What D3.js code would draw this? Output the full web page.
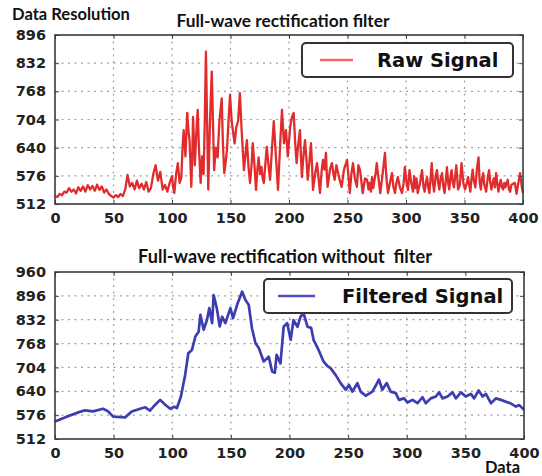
<!DOCTYPE html>
<html>
<head>
<meta charset="utf-8">
<script src="https://cdn.jsdelivr.net/npm/d3@7"></script>
<style>
  html, body { margin: 0; padding: 0; background: #fff; }
  svg { display: block; }
</style>
</head>
<body>
<svg id="chart" width="542" height="476"></svg>
<script>
// Raw (unfiltered) signal: sample index and amplitude
const rawX = [0,2,4,6,8,10,12,14,16,18,20,22,24,26,28,30,32,34,36,38,40,42,44,46,48,50,52,54,56,58,60,62,64,66,68,70,72,74,76,78,80,82,84,86,88,90,92,94,96,98,
  100,101,102,103.5,105,106.5,108,109,110,111.5,113,114,115,116.5,117.5,118,119.5,120.5,121.3,122,123,124.5,125.7,127,128,129,130,131,132.5,134,135,136,137.5,139,140.5,142.5,143.5,144.7,146,147,148.3,149.6,151,152,153.5,155,156.5,158,159.5,161.5,163,164,165.3,166.7,168,169,170.5,171.8,173,174,175.3,176.5,177.5,178.5,180,181,182.5,183.8,185.5,187,188.8,190.6,192.3,194,195.7,197.4,199,
  201,202.5,204,205.3,206.5,208,209.4,210.2,211,212.3,213.7,215,216,217.5,218.8,219.7,220.5,222.3,224,225.3,226.5,228,229,230.3,231.6,232.3,233,235,236.7,238,239,240.5,242,243.5,245,247,249.6,251,252,253.3,254.7,256.3,258,259.3,260.7,262,263,265,266.7,268,269,270,271,272,273,274,275,276.5,278,280,282,283.3,284.6,286.3,288,289.3,290.6,291.8,293,294.8,296.6,298,299,
  300.5,301.7,303,304.5,306,307,308,309,310,312,313.7,315,316,317,318,319,320,321,322,323,324,325.3,326.5,327.5,328.5,329.6,330.8,332,333,334,335,336,337,338,339,340,341,342,343,344.5,346,347.5,349,350.5,352,353,354,355,356,357,358,359.3,360.7,362,363,364,365,366,367,368.5,370,371,372,373,374,375,376,377,378,379,380,381,382,383,384,385,386,387,388,389,390,391.5,393,394.5,396,397.5,399,400];
const rawY = [530,528,535,532,540,538,548,540,545,536,550,542,552,540,555,545,553,542,556,544,552,538,545,535,530,527,532,528,535,530,545,578,552,560,545,565,548,558,545,562,540,548,580,600,565,585,545,555,540,560,
  575,550,537,580,605,560,573,640,680,620,719,680,657,551,640,710,600,657,700,726,640,560,620,580,700,858,700,545,700,813,700,589,640,618,700,752,650,582,610,635,700,760,700,680,650,687,700,764,680,589,630,657,600,560,600,650,600,544,590,618,580,596,570,560,610,642,600,567,640,700,620,544,640,726,650,680,620,
  687,710,719,650,605,650,680,620,573,620,657,610,567,610,650,600,544,580,605,570,537,590,612,590,628,580,551,590,605,580,567,600,582,565,551,590,612,570,537,580,605,570,551,600,589,560,537,570,567,545,560,540,573,548,565,580,605,570,537,580,628,570,537,560,582,550,537,560,573,550,537,560,596,
  560,544,589,560,540,575,548,570,537,560,589,550,540,560,573,550,537,570,605,560,540,575,589,560,545,570,582,550,537,565,596,560,545,575,589,560,550,575,600,545,555,605,560,545,560,573,555,540,570,590,565,550,595,618,560,545,570,582,555,540,575,589,560,545,560,570,550,582,560,540,555,567,550,545,560,550,560,567,545,540,555,558,560,535,560,582,550,537,545];

// Filtered signal: sample index and amplitude
const filtX = [0,10,18.5,25.6,32.5,41,45.3,49.6,59.8,65.5,72.6,77,81,85.5,89.7,94,98.3,101.7,104,107.4,111,113.7,116.8,119.7,122.5,124,126.8,129.6,131.6,134,135.3,138,140.5,142.5,145.3,149.6,151.9,155.3,159.6,162.4,165.2,168,171,173.8,178,182.3,185.2,187.5,189,192.3,
  195,198,201,203.4,206.8,209.4,212,215.4,218.5,220.5,224.8,229,232.2,235,239.3,243.6,247.9,250.7,253.6,257.9,260.7,265,270.7,276.3,279.2,282.9,286.3,290.6,293.4,297.7,300.6,304.9,309.2,313.4,316.2,320.5,324.8,327.6,330.5,334.8,339,341.9,346.2,350.4,354.7,357.5,361.3,364.7,367.5,371.8,376,380.3,384.6,388.9,393.2,396,400];
const filtY = [559,572,582,589,586,593,586,572,570,586,593,597,588,604,617,604,593,599,595,626,684,742,751,787,800,845,805,831,863,823,898,863,814,840,823,863,836,872,907,885,872,809,769,756,720,733,693,690,738,715,
  813,823,778,831,813,840,849,813,810,778,751,720,708,702,684,662,644,657,639,662,639,628,639,671,644,662,639,635,617,621,610,617,608,624,608,621,626,637,621,626,637,621,637,626,633,621,642,626,633,608,621,617,612,607,599,603,590];

// Axis tick values
const xTicks = [0,50,100,150,200,250,300,350,400];
const yTicksTop = [512,576,640,704,768,832,896];
const yTicksBottom = [512,576,640,704,768,832,896,960];

const svg = d3.select("#chart");
const tickFont = "'DejaVu Sans', sans-serif";
const titleFont = "Lato, 'Open Sans', sans-serif";

// bold caption whose font size is chosen so the text spans the given width
function caption(x, y, width, anchor, label) {
  const t = svg.append("text").attr("x", x).attr("y", y).attr("text-anchor", anchor)
    .attr("font-family", titleFont).attr("font-weight", "bold").attr("font-size", 14)
    .attr("fill", "#111").text(label);
  const len = t.node().getComputedTextLength();
  if (len > 0) t.attr("font-size", 14 * width / len);
  return t;
}

function panel(cfg) {
  const x = d3.scaleLinear().domain([0, 400]).range([cfg.left, cfg.right]);
  const y = d3.scaleLinear().domain(cfg.yDomain).range([cfg.bottom, cfg.top]);
  const g = svg.append("g");

  // dotted grid
  g.append("g").selectAll("line").data(cfg.yTicks.slice(1, -1)).join("line")
    .attr("x1", cfg.left).attr("x2", cfg.right)
    .attr("y1", d => y(d)).attr("y2", d => y(d))
    .attr("stroke", "#a0a0a0").attr("stroke-width", 1.2).attr("stroke-dasharray", "2,4.5");
  g.append("g").selectAll("line").data(xTicks.slice(1, -1)).join("line")
    .attr("x1", d => x(d)).attr("x2", d => x(d))
    .attr("y1", cfg.top).attr("y2", cfg.bottom)
    .attr("stroke", "#a0a0a0").attr("stroke-width", 1.2).attr("stroke-dasharray", "2,4.5");

  // series
  const pts = d3.zip(cfg.xs, cfg.ys);
  g.append("path").datum(pts)
    .attr("fill", "none").attr("stroke", cfg.color).attr("stroke-width", cfg.width)
    .attr("stroke-linejoin", "round")
    .attr("d", d3.line().x(d => x(d[0])).y(d => y(d[1])));

  // axes with inward ticks
  const ax = g.append("g").attr("transform", `translate(0,${cfg.bottom})`)
    .call(d3.axisBottom(x).tickValues(xTicks).tickFormat(d3.format("d")).tickSizeInner(-4).tickSizeOuter(0).tickPadding(9));
  const ay = g.append("g").attr("transform", `translate(${cfg.left},0)`)
    .call(d3.axisLeft(y).tickValues(cfg.yTicks).tickFormat(d3.format("d")).tickSizeInner(-4).tickSizeOuter(0).tickPadding(9));
  g.append("g").attr("transform", `translate(0,${cfg.top})`)
    .call(d3.axisTop(x).tickValues(xTicks).tickFormat("").tickSizeInner(-4).tickSizeOuter(0));
  g.append("g").attr("transform", `translate(${cfg.right},0)`)
    .call(d3.axisRight(y).tickValues(cfg.yTicks).tickFormat("").tickSizeInner(-4).tickSizeOuter(0));
  g.selectAll(".domain").remove();
  g.selectAll(".tick line").attr("stroke", "#444").attr("stroke-width", 1);
  [ax, ay].forEach(a => a.selectAll("text")
    .attr("font-family", tickFont).attr("font-weight", "bold").attr("font-size", 14.5).attr("fill", "#222"));
  ax.selectAll("text").attr("dy", "0.71em");

  // frame
  g.append("rect").attr("x", cfg.left).attr("y", cfg.top)
    .attr("width", cfg.right - cfg.left).attr("height", cfg.bottom - cfg.top)
    .attr("fill", "none").attr("stroke", "#3a3a3a").attr("stroke-width", 1.6);

  // title
  caption(cfg.titleX, cfg.titleY, cfg.titleW, "middle", cfg.title);

  // legend
  const L = cfg.legend;
  svg.append("rect").attr("x", L.x).attr("y", L.y).attr("width", L.w).attr("height", L.h)
    .attr("rx", 4).attr("fill", "#fff").attr("stroke", "#333").attr("stroke-width", 2);
  svg.append("line").attr("x1", L.x + L.lx1).attr("x2", L.x + L.lx2)
    .attr("y1", L.y + L.h / 2).attr("y2", L.y + L.h / 2)
    .attr("stroke", L.color).attr("stroke-width", 2.5);
  svg.append("text").attr("x", L.x + L.tx).attr("y", L.y + L.h / 2 + 7)
    .attr("font-family", tickFont).attr("font-weight", "bold").attr("font-size", 19.5)
    .attr("fill", "#111").text(L.label);
}

panel({
  left: 55, right: 523, top: 35, bottom: 204,
  yDomain: [512, 896], yTicks: yTicksTop,
  xs: rawX, ys: rawY, color: "#e02c2c", width: 2.3,
  title: "Full-wave rectification filter", titleX: 283, titleY: 27, titleW: 213,
  legend: { x: 302, y: 43, w: 211, h: 34, lx1: 18, lx2: 51, tx: 75, color: "#f06a6a", label: "Raw Signal" }
});

panel({
  left: 55, right: 524, top: 272, bottom: 439,
  yDomain: [512, 960], yTicks: yTicksBottom,
  xs: filtX, ys: filtY, color: "#3d3db2", width: 2.7,
  title: "Full-wave rectification without\u00a0 filter", titleX: 285, titleY: 263, titleW: 294,
  legend: { x: 264, y: 279, w: 248, h: 34, lx1: 14, lx2: 51, tx: 78, color: "#5050c4", label: "Filtered Signal" }
});

// axis captions
caption(12, 20, 118, "start", "Data Resolution");
caption(485, 473, 35, "start", "Data");
</script>
</body>
</html>
